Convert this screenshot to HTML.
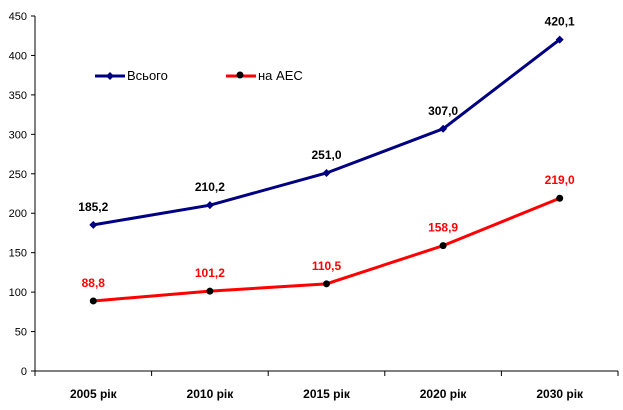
<!DOCTYPE html>
<html><head><meta charset="utf-8"><style>
body{margin:0;background:#fff}
svg{font-family:"Liberation Sans",Arial,sans-serif;display:block}
</style></head><body>
<svg id="chart" width="623" height="410">
<g id="axes"></g><g id="series"></g>
<g>
 <g>
  <line x1="95" y1="76" x2="125" y2="76" stroke="#000080" stroke-width="3"/>
  <path d="M110 72 L114 76 L110 80 L106 76 Z" fill="#000080"/>
  <text x="127" y="80" font-size="13" fill="#000">Всього</text>
 </g>
 <g>
  <line x1="226" y1="76" x2="256" y2="76" stroke="#ff0000" stroke-width="3"/>
  <circle cx="240" cy="75" r="3.5" fill="#000"/>
  <text x="258" y="80" font-size="13" fill="#000">на АЕС</text>
 </g>
</g>
</svg>
<script>
const categories=["2005 рік","2010 рік","2015 рік","2020 рік","2030 рік"];
const totalValues=[185.2,210.2,251.0,307.0,420.1];
const nppValues=[88.8,101.2,110.5,158.9,219.0];
const yTicks=[0,50,100,150,200,250,300,350,400,450];
const NS="http://www.w3.org/2000/svg";
const x0=35,x1=618,y0=371,y1=16,ymax=450;
const bw=(x1-x0)/categories.length;
const X=i=>x0+bw*(i+0.5);
const Y=v=>y0-(v/ymax)*(y0-y1);
function mk(tag,attrs,parent){const e=document.createElementNS(NS,tag);for(const k in attrs)e.setAttribute(k,attrs[k]);parent.appendChild(e);return e;}
const axes=document.getElementById('axes'),ser=document.getElementById('series');
const ya=mk('line',{x1:x0,y1:y1,x2:x0,y2:y0,stroke:'#000','stroke-width':1},axes);


const xa=mk('line',{x1:x0,y1:y0,x2:x1,y2:y0,stroke:'#000','stroke-width':1},axes);


yTicks.forEach(t=>{
 mk('line',{x1:x0-4,y1:Y(t),x2:x0,y2:Y(t),stroke:'#000'},axes);
 const tx=mk('text',{x:x0-8,y:Y(t)+4,'text-anchor':'end','font-size':11},axes);
 tx.textContent=t;
 
 
});
for(let i=0;i<=categories.length;i++)mk('line',{x1:x0+bw*i,y1:y0,x2:x0+bw*i,y2:y0+5,stroke:'#000'},axes);
categories.forEach((c,i)=>{
 const tx=mk('text',{x:X(i),y:398,'text-anchor':'middle','font-size':12,'font-weight':'bold'},axes);
 tx.textContent=c;
 
 
});
function series(vals,color,name,marker,labelColor){
 const pl=mk('polyline',{points:vals.map((v,i)=>X(i)+','+Y(v)).join(' '),fill:'none',stroke:color,'stroke-width':3},ser);
 
 
 vals.forEach((v,i)=>{
  let m;
  if(marker==='diamond')m=mk('path',{d:`M${X(i)} ${Y(v)-4} L${X(i)+4} ${Y(v)} L${X(i)} ${Y(v)+4} L${X(i)-4} ${Y(v)} Z`,fill:'#000080'},ser);
  else m=mk('circle',{cx:X(i),cy:Y(v),r:3.5,fill:'#000'},ser);
  
  
  const t=mk('text',{x:X(i),y:Y(v)-14,'text-anchor':'middle','font-size':12,'font-weight':'bold',fill:labelColor},ser);
  t.textContent=v.toFixed(1).replace('.',',');
  
  
 });
}
series(totalValues,'#000080','total','diamond','#000');
series(nppValues,'#ff0000','npp','circle','#ff0000');
</script>
</body></html>
